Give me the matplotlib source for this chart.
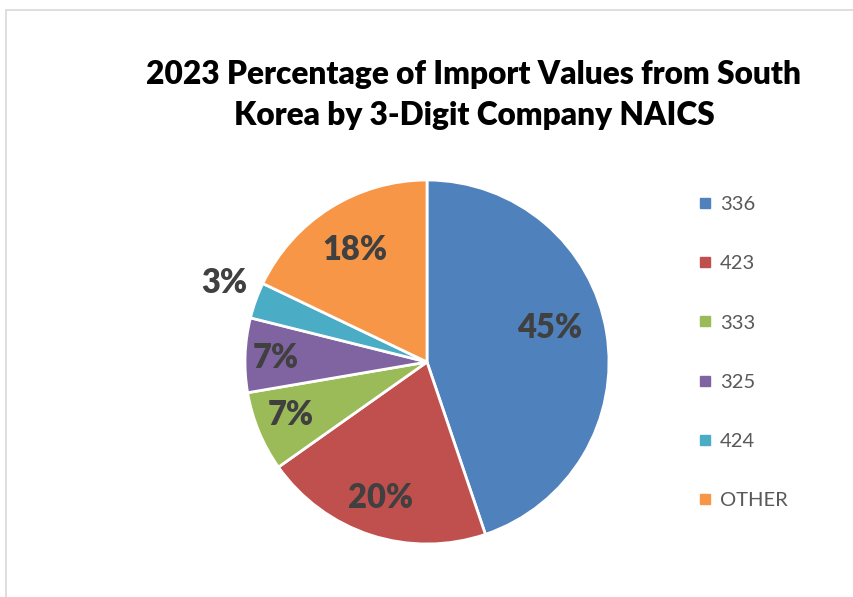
import numpy as np
import matplotlib.pyplot as plt
from matplotlib.lines import Line2D
from matplotlib.patches import Rectangle

plt.rcParams['font.family'] = ['Lato', 'DejaVu Sans']

# data
categories = ["336", "423", "333", "325", "424", "OTHER"]
shares = [44.8, 20.4, 7.1, 6.6, 3.2, 17.9]
colors = ["#4F81BD", "#C0504D", "#9BBB59", "#8064A2", "#4BACC6", "#F79646"]

title = "2023 Percentage of Import Values from South\nKorea by 3-Digit Company NAICS"

# label placement (fraction of radius, angle nudge in degrees)
label_r = [0.70, 0.78, 0.80, 0.83, 1.20, 0.74]
label_nudge = [7, -1, -2, 0, -2, 0]

W, H = 854, 597
fig = plt.figure(figsize=(W / 100, H / 100), dpi=100)

# chart-area border (cropped on right/bottom)
fig.patches.append(Rectangle((6.5 / W, -0.1), 1.2, 1.1 - 9.5 / H,
                             transform=fig.transFigure, fill=False,
                             edgecolor="#D9D9D9", linewidth=1.2))

cx, cy, r = 427, 362, 182
ax = fig.add_axes([(cx - r) / W, (H - cy - r) / H, 2 * r / W, 2 * r / H])
wedges, _ = ax.pie(shares, colors=colors, startangle=90, counterclock=False,
                   wedgeprops=dict(edgecolor="white", linewidth=2))
ax.set_xlim(-1, 1)
ax.set_ylim(-1, 1)
ax.set_aspect("equal")

for w, val, rr, nd in zip(wedges, shares, label_r, label_nudge):
    ang = np.deg2rad((w.theta1 + w.theta2) / 2 + nd)
    ax.text(rr * np.cos(ang), rr * np.sin(ang) - 0.01, f"{val:.0f}%",
            ha="center", va="center", fontsize=23.5, fontweight="heavy",
            color="#404040", clip_on=False)

fig.text(474 / W, 1 - 95 / H, title, ha="center", va="center",
         fontsize=22.8, fontweight="heavy", color="black", linespacing=1.48)

handles = [Line2D([], [], marker="s", linestyle="", markersize=7,
                  markerfacecolor=c, markeredgecolor=c) for c in colors]
fig.legend(handles, categories, loc="upper left",
           bbox_to_anchor=(688 / W, 1 - 186 / H), frameon=False,
           fontsize=14.5, labelcolor="#595959", handlelength=0.7,
           handletextpad=0.4, labelspacing=2.09, borderpad=0)

fig.savefig("out.png", dpi=100)
